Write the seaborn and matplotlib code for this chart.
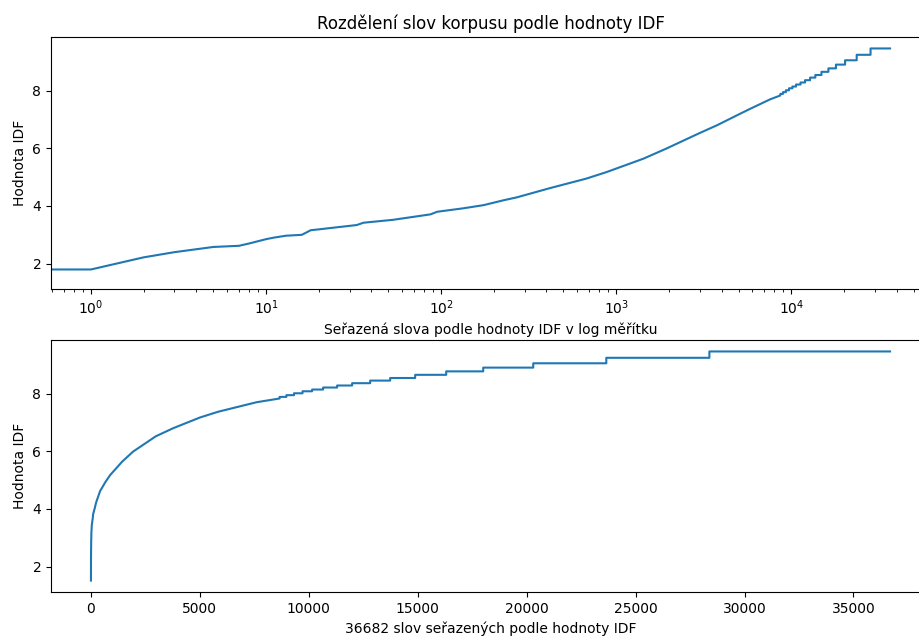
import numpy as np
import pandas as pd
import matplotlib
matplotlib.use("Agg")
import matplotlib.pyplot as plt
from matplotlib.ticker import MultipleLocator
import seaborn as sns

# Sorted IDF curve: smooth part (rank of word, IDF value)
curve_rank = [0, 1, 2, 3, 5, 7, 8, 10, 11, 13, 16, 18, 20, 33, 36, 53, 87, 95,
              134, 175, 228, 271, 419, 676, 886, 1431, 1935, 2978, 3774, 5000,
              5836, 7600, 8660]
curve_idf = [1.52, 1.80, 2.22, 2.40, 2.58, 2.62, 2.70, 2.85, 2.90, 2.97, 3.00,
             3.16, 3.19, 3.34, 3.42, 3.52, 3.71, 3.80, 3.92, 4.03, 4.20, 4.30,
             4.62, 4.95, 5.18, 5.64, 5.99, 6.52, 6.80, 7.17, 7.37, 7.70, 7.83]

# Rare words share the same IDF: plateaus (first rank of plateau, IDF value)
step_start = [8660, 8970, 9320, 9712, 10152, 10657, 11300, 11989, 12816,
              13735, 14883, 16307, 18006, 20303, 23656, 28388]
step_idf = [7.885, 7.945, 8.01, 8.08, 8.14, 8.21, 8.28, 8.36, 8.45, 8.54, 8.65,
            8.77, 8.90, 9.05, 9.24, 9.46]
n_words = 36682

# Build polyline vertices: smooth part, then each plateau as a horizontal run
xs = list(curve_rank)
ys = list(curve_idf)
prev = curve_idf[-1]
ends = step_start[1:] + [n_words - 1]
for s, e, v in zip(step_start, ends, step_idf):
    xs += [s, s, e]
    ys += [prev, v, v]
    prev = v
df = pd.DataFrame({"rank": xs, "idf": ys})

fig = plt.figure(figsize=(9.19, 6.37), dpi=100)
ax1 = fig.add_axes([51 / 919, 1 - 289 / 637, 879 / 919, 252 / 637])
ax2 = fig.add_axes([51 / 919, 1 - 592 / 637, 879 / 919, 252 / 637])

sns.lineplot(data=df, x="rank", y="idf", ax=ax1, estimator=None, sort=False,
             color="#1f77b4", linewidth=1.5)
ax1.set_xscale("log")
ax1.set_title("Rozdělení slov korpusu podle hodnoty IDF", fontsize=12)
ax1.set_xlabel("Seřazená slova podle hodnoty IDF v log měřítku")
ax1.set_ylabel("Hodnota IDF")

sns.lineplot(data=df, x="rank", y="idf", ax=ax2, estimator=None, sort=False,
             color="#1f77b4", linewidth=1.5)
ax2.set_xlabel(f"{n_words} slov seřazených podle hodnoty IDF")
ax2.set_ylabel("Hodnota IDF")

for ax in (ax1, ax2):
    ax.yaxis.set_major_locator(MultipleLocator(2))

fig.savefig("out.png", dpi=100)
